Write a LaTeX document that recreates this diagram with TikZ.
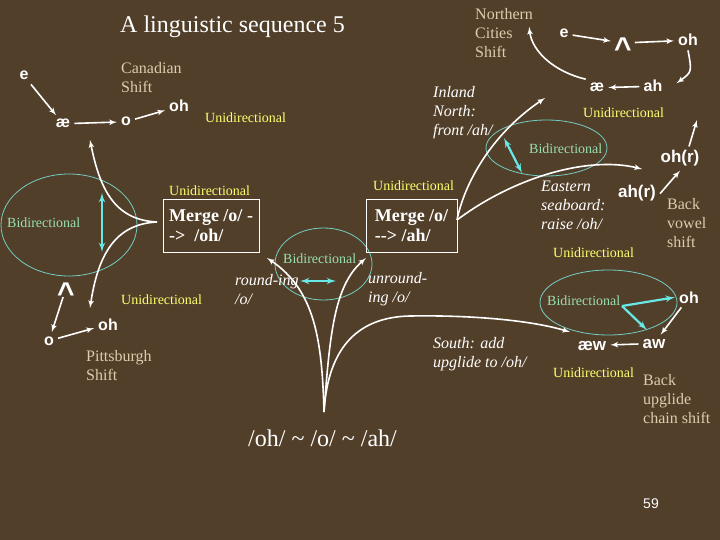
\documentclass[tikz,border=0pt]{standalone}
\usepackage{fontspec}
\setmainfont{Liberation Serif}
\setsansfont{Liberation Sans}
\usepackage{tikz}
\definecolor{slidebg}{RGB}{82,63,42}
\definecolor{uniyellow}{RGB}{255,255,110}
\definecolor{bigreen}{RGB}{150,225,175}
\definecolor{shifttan}{RGB}{222,204,172}
\definecolor{ellcyan}{RGB}{115,205,195}
\definecolor{arrcyan}{RGB}{105,232,232}
\tikzstyle{vowel}=[text=white, font=\sffamily\bfseries\fontsize{16}{19}\selectfont, inner sep=4pt, anchor=base]
\tikzstyle{bigvowel}=[vowel, font=\sffamily\bfseries\fontsize{17}{20}\selectfont]
\tikzstyle{caret}=[text=white, font=\sffamily\bfseries\fontsize{30}{30}\selectfont, inner sep=3pt, text height=11.6pt, text depth=0pt]
\tikzstyle{uni}=[text=uniyellow, font=\fontsize{14}{17}\selectfont, inner sep=0pt, anchor=base west]
\tikzstyle{bi}=[text=bigreen, font=\fontsize{14}{17}\selectfont, inner sep=0pt, anchor=base west]
\tikzstyle{shiftname}=[text=shifttan, font=\fontsize{16}{19}\selectfont, align=left, inner sep=0pt, anchor=north west]
\tikzstyle{note}=[text=white, font=\itshape\fontsize{16}{19}\selectfont, align=left, inner sep=0pt, anchor=north west]
\tikzstyle{block}=[draw=white, line width=1pt, text=white, font=\bfseries\fontsize{18}{20}\selectfont, align=left, minimum height=52pt]
\tikzstyle{zone}=[draw=ellcyan, ellipse, line width=0.8pt, inner sep=0pt]
\tikzstyle{arrow}=[white, line width=1.6pt, ->]
\tikzstyle{biarrow}=[arrcyan, line width=2.2pt, <->]
\tikzstyle{cyarrow}=[arrcyan, line width=2.2pt, ->]
\usetikzlibrary{shapes.geometric,arrows,positioning,calc}

\begin{document}
\begin{tikzpicture}[x=1pt,y=-1pt,>=latex']
\fill[slidebg] (0,0) rectangle (720,540);
\useasboundingbox (0,0) rectangle (720,540);
\node (title) [anchor=base west, text=white, font=\fontsize{24}{28}\selectfont, inner sep=0pt] at (120,33) {A linguistic sequence 5};
% zones
\node (zoneEast) [zone, minimum width=121pt, minimum height=56pt] at (546.5,148) {};
\node (zonePitt) [zone, minimum width=136pt, minimum height=102pt] at (69,225) {};
\node (zoneRound) [zone, minimum width=97pt, minimum height=72pt] at (323.5,264) {};
\node (zoneBack) [zone, minimum width=137pt, minimum height=65pt] at (608.5,302.5) {};
% Canadian shift
\node (eC) [vowel] at (24,80) {e};
\node (aeC) [vowel] at (63,128) {æ};
\node (oC) [vowel] at (126,126) {o};
\node (ohC) [vowel] at (179,112) {oh};
\node (canada) [shiftname] at (121,62) {Canadian\\Shift};
\node (uniC) [uni] at (205,123) {Unidirectional};
% Pittsburgh shift
\node (caretP) [caret] at (66,288) {\raisebox{-10pt}{\textasciicircum}};
\node (oP) [vowel] at (49,345) {o};
\node (ohP) [vowel] at (108,330) {oh};
\node (pitts) [shiftname] at (86,350) {Pittsburgh\\Shift};
\node (uniP) [uni] at (121,304) {Unidirectional};
\node (biP) [bi] at (7,227) {Bidirectional};
\node (merge1) [block, minimum width=96pt] at (211,226) {Merge /o/ -\\->~ /oh/};
\node (uniM1) [uni] at (169,196) {Unidirectional};
% merger in the middle
\node (merge2) [block, minimum width=91pt] at (411.5,226) {Merge /o/\\-{}-> /ah/};
\node (uniM2) [uni] at (373,191) {Unidirectional};
\node (biR) [bi] at (283,263) {Bidirectional};
\node (rounding) [note] at (235,274) {round-ing\\/o/};
\node (unrounding) [note] at (368,272) {unround-\\ing /o/};
\node (triple) [anchor=base west, text=white, font=\fontsize{24}{28}\selectfont, inner sep=0pt] at (248,446) {/oh/ \textasciitilde{} /o/ \textasciitilde{} /ah/};
\node (inland) [note] at (433,86) {Inland\\North:\\front /ah/};
\node (eastern) [note] at (541,181) {Eastern\\seaboard:\\raise /oh/};
\node (south) [note] at (433,337) {South: add\\upglide to /oh/};
\node (biE) [bi] at (529,154) {Bidirectional};
% Northern cities shift
\node (ncs) [shiftname] at (475,8) {Northern\\Cities\\Shift};
\node (eN) [vowel] at (564,38) {e};
\node (caretN) [caret] at (623,43) {\raisebox{-10pt}{\textasciicircum}};
\node (ohN) [vowel] at (688,46) {oh};
\node (aeN) [vowel] at (597,92) {æ};
\node (ahN) [vowel] at (653,92) {ah};
\node (uniN) [uni] at (583,118) {Unidirectional};
% back vowel shift
\node (ohR) [bigvowel] at (680,163) {oh(r)};
\node (ahR) [bigvowel] at (637,198) {ah(r)};
\node (bvs) [shiftname] at (667,198) {Back\\vowel\\shift};
\node (uniE) [uni] at (553,257) {Unidirectional};
% back upglide chain shift
\node (biB) [bi] at (547,305) {Bidirectional};
\node (ohB) [vowel] at (689,303) {oh};
\node (awB) [bigvowel] at (654,348) {aw};
\node (aewB) [bigvowel] at (592,350) {æw};
\node (uniB) [uni] at (553,377) {Unidirectional};
\node (bucs) [shiftname] at (643,374) {Back\\upglide\\chain shift};
\node (page) [anchor=base, text=white, font=\sffamily\fontsize{14}{16}\selectfont, inner sep=0pt] at (651,508) {59};
% free ends
\coordinate (cuspL) at (157,222);
\coordinate (canTip) at (90,140);
\coordinate (pitTip) at (90,308);
\coordinate (pgA) at (102,193);
\coordinate (pgB) at (102,252);
\coordinate (cuspR) at (457,220);
\coordinate (inlandTip) at (545,98);
\coordinate (eastTip) at (642,169);
\coordinate (esA) at (504,138);
\coordinate (esB) at (522,173);
\coordinate (root) at (324,412);
\coordinate (roundTip) at (267,258);
\coordinate (unroundTip) at (366,258);
\coordinate (southTip) at (570,332);
\coordinate (rdA) at (300,281);
\coordinate (rdB) at (336,281);
\coordinate (bvsTip) at (697,120);
\coordinate (bkA) at (622,306);
\coordinate (bkB) at (647,330);
% arrows
\draw[arrow] (eC) -- (aeC);
\draw[arrow] (aeC) -- (oC);
\draw[arrow] (oC) -- (ohC);
\draw[arrow] (cuspL) .. controls (115,220) and (100,190) .. (canTip);
\draw[arrow] (cuspL) .. controls (115,224) and (98,255) .. (pitTip);
\draw[biarrow] (pgA) -- (pgB);
\draw[arrow] (caretP) -- (oP);
\draw[arrow] (oP) -- (ohP);
\draw[arrow] (cuspR) .. controls (464,185) and (490,135) .. (inlandTip);
\draw[arrow] (cuspR) .. controls (510,180) and (585,155) .. (eastTip);
\draw[biarrow] (esA) -- (esB);
\draw[arrow] (root) .. controls (322,340) and (315,290) .. (roundTip);
\draw[arrow] (root) .. controls (330,330) and (335,285) .. (unroundTip);
\draw[arrow] (root) .. controls (328,345) and (360,317) .. (410,316) .. controls (470,315) and (530,320) .. (southTip);
\draw[biarrow] (rdA) -- (rdB);
\draw[arrow] (eN) -- (caretN);
\draw[arrow] (caretN) -- (ohN);
\draw[arrow] (ohN.south) .. controls (692,72) .. ([shift={(10pt,3pt)}]ahN.east);
\draw[arrow] (ahN) -- (aeN);
\draw[arrow] (aeN.north west) .. controls (555,72) and (532,52) .. ([shift={(-4pt,6pt)}]ncs.east);
\draw[arrow] (ahR.east) .. controls (670,182) .. (ohR.south);
\draw[arrow] ([xshift=9pt]ohR.north) -- (bvsTip);
\draw[arrow] (ohB) -- (awB);
\draw[arrow] (awB) -- (aewB);
\draw[cyarrow] (bkA) -- (ohB.west);
\draw[cyarrow] (bkA) -- (bkB);
\end{tikzpicture}
\end{document}
